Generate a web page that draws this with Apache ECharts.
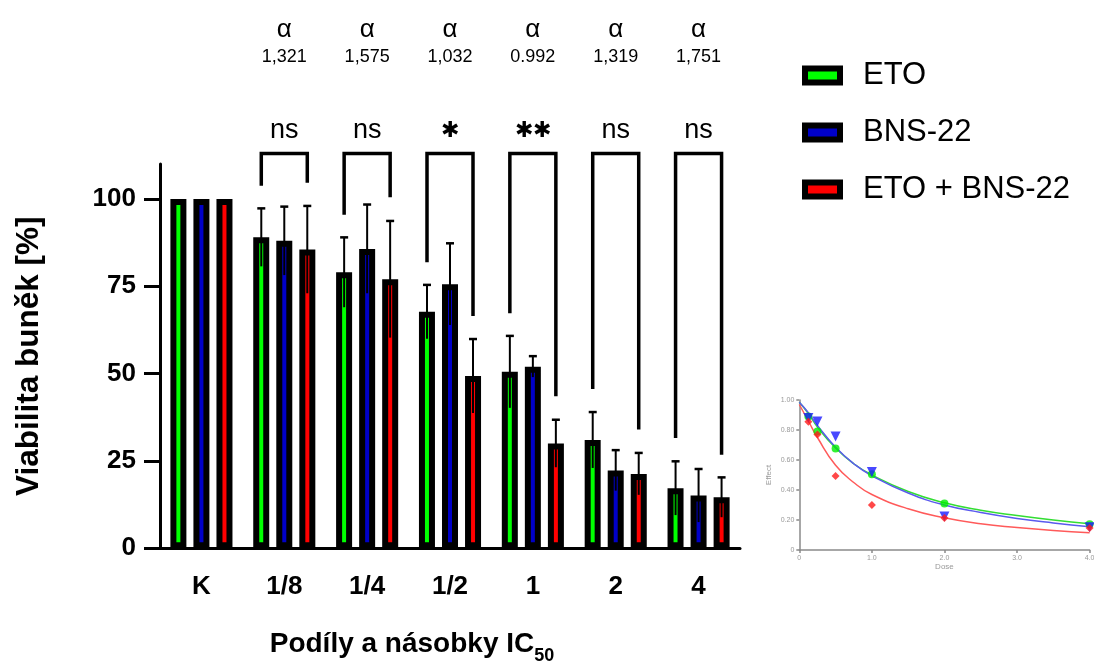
<!DOCTYPE html>
<html>
<head>
<meta charset="utf-8">
<script src="https://cdn.jsdelivr.net/npm/echarts@6/dist/echarts.min.js"></script>
<style>
  html, body { margin: 0; padding: 0; background: #fff; }
  #chart { width: 1094px; height: 665px; }
</style>
</head>
<body>
<div id="chart"></div>
<script>
// kategorie (podíly a násobky IC50)
var categories = ['K', '1/8', '1/4', '1/2', '1', '2', '4'];
var seriesNames = ['ETO', 'BNS-22', 'ETO + BNS-22'];
var colors = ['#00ff00', '#0000c8', '#ff0000'];

// průměry viability [%]
var etoMean = [100, 89, 79, 67.7, 50.5, 31, 17.2];
var bnsMean = [100, 88, 85.7, 75.6, 52, 22.3, 15.1];
var comboMean = [100, 85.5, 77, 49.3, 30, 21.3, 14.6];
// směrodatné odchylky
var etoSd = [0, 8.3, 10, 7.7, 10.3, 8, 7.7];
var bnsSd = [0, 9.8, 12.7, 11.7, 3, 5.8, 7.6];
var comboSd = [0, 12.5, 16.7, 10.6, 6.8, 6, 5.7];

// signifikance ETO vs ETO + BNS-22 (skupiny 1/8 .. 4)
var sigLabels = ['ns', 'ns', '\u2731', '\u2731\u2731', 'ns', 'ns'];
var alphaLabels = ['1,321', '1,575', '1,032', '0.992', '1,319', '1,751'];
// konce ramen závorek (hodnota osy y)
var bracketLeft = [103.8, 95.5, 81.9, 67.3, 45.6, 31.6];
var bracketRight = [104.6, 100.5, 66.5, 43.5, 34, 26.8];

// vložený graf dávka-účinek
var doses = [0.125, 0.25, 0.5, 1, 2, 4];
var curveDose = [0, 0.125, 0.25, 0.5, 0.75, 1, 1.5, 2, 2.5, 3, 3.5, 4];
var etoCurve = [0.985, 0.91, 0.82, 0.68, 0.575, 0.50, 0.39, 0.315, 0.265, 0.23, 0.20, 0.175];
var bnsCurve = [0.985, 0.915, 0.83, 0.685, 0.575, 0.495, 0.38, 0.30, 0.25, 0.21, 0.18, 0.155];
var comboCurve = [0.97, 0.86, 0.75, 0.565, 0.45, 0.37, 0.275, 0.215, 0.175, 0.15, 0.13, 0.115];

var FONT = 'Liberation Sans, Arial, sans-serif';
var BAR_STEP = 23; // vzdálenost středů sloupců ve skupině (px)
var BRACKET_TOP = 113;
var SIG_Y = 119.5;
var CI_Y = 140.5;
var ALPHA_Y = 148.5;

var means = [etoMean, bnsMean, comboMean];
var sds = [etoSd, bnsSd, comboSd];
var curves = [etoCurve, bnsCurve, comboCurve];
var symbols = ['circle', 'triangle', 'diamond'];
var curveColors = ['#33dd33', '#5a5aee', '#ff5a5a'];
var pointColors = ['#00ee00', '#1a1aff', '#ff1a1a'];

var errData = [];
means.forEach(function(arr, s) {
  arr.forEach(function(v, i) {
    if (sds[s][i] > 0) errData.push([i, v, sds[s][i], s]);
  });
});
var bracketData = bracketLeft.map(function(v, i) {
  return [i + 1, v, bracketRight[i]];
});

var chart = echarts.init(document.getElementById('chart'));

var series = [];
seriesNames.forEach(function(name, s) {
  series.push({
    name: name,
    type: 'bar',
    xAxisIndex: 0,
    yAxisIndex: 0,
    data: means[s],
    barWidth: 16,
    barGap: '44%',
    itemStyle: { color: colors[s], borderColor: '#000', borderWidth: 6 }
  });
});

// chybové úsečky
series.push({
  type: 'custom',
  xAxisIndex: 0,
  yAxisIndex: 0,
  z: 5,
  clip: false,
  data: errData,
  encode: { x: 0, y: 1 },
  renderItem: function(params, api) {
    var x = api.coord([api.value(0), 0])[0] + (api.value(3) - 1) * BAR_STEP;
    var top = api.coord([api.value(0), api.value(1) + api.value(2)])[1];
    var bot = api.coord([api.value(0), api.value(1) - api.value(2)])[1];
    return {
      type: 'group',
      children: [
        { type: 'line', shape: { x1: x, y1: bot, x2: x, y2: top }, style: { stroke: '#000', lineWidth: 2 } },
        { type: 'line', shape: { x1: x - 4, y1: top, x2: x + 4, y2: top }, style: { stroke: '#000', lineWidth: 2.5 } }
      ]
    };
  }
});

// závorky, signifikance a hodnoty alfa
series.push({
  type: 'custom',
  xAxisIndex: 0,
  yAxisIndex: 0,
  z: 6,
  clip: false,
  data: bracketData,
  encode: { x: 0, y: 1 },
  renderItem: function(params, api) {
    var i = params.dataIndex;
    var cx = api.coord([api.value(0), 0])[0];
    var xl = cx - BAR_STEP, xr = cx + BAR_STEP;
    var yt = api.coord([api.value(0), BRACKET_TOP])[1];
    var yl = api.coord([api.value(0), api.value(1)])[1];
    var yr = api.coord([api.value(0), api.value(2)])[1];
    var sig = sigLabels[i];
    var isStar = sig !== 'ns';
    return {
      type: 'group',
      children: [
        { type: 'polyline', shape: { points: [[xl, yl], [xl, yt], [xr, yt], [xr, yr]] },
          style: { stroke: '#000', lineWidth: 3.5, fill: null } },
        { type: 'text', x: cx, y: api.coord([api.value(0), SIG_Y])[1],
          style: { text: sig, fontFamily: FONT, fontSize: isStar ? 22 : 27, fill: '#000',
                   align: 'center', verticalAlign: 'middle' } },
        { type: 'text', x: cx, y: api.coord([api.value(0), CI_Y])[1],
          style: { text: alphaLabels[i], fontFamily: FONT, fontSize: 18, fill: '#000',
                   align: 'center', verticalAlign: 'middle' } },
        { type: 'text', x: cx, y: api.coord([api.value(0), ALPHA_Y])[1],
          style: { text: '\u03b1', fontFamily: FONT, fontSize: 26, fill: '#000',
                   align: 'center', verticalAlign: 'middle' } }
      ]
    };
  }
});

// vložený graf: body a proložené křivky
seriesNames.forEach(function(name, s) {
  series.push({
    type: 'line',
    xAxisIndex: 1,
    yAxisIndex: 1,
    smooth: true,
    showSymbol: false,
    data: curveDose.map(function(d, k) { return [d, curves[s][k]]; }),
    lineStyle: { color: curveColors[s], width: 1.5 },
    silent: true
  });
  series.push({
    type: 'scatter',
    xAxisIndex: 1,
    yAxisIndex: 1,
    symbol: symbols[s],
    symbolRotate: s === 1 ? 180 : 0,
    symbolSize: s === 1 ? 10 : 8,
    data: doses.map(function(d, k) { return [d, means[s][k + 1] / 100]; }),
    itemStyle: { color: pointColors[s] },
    z: 4
  });
});

chart.setOption({
  animation: false,
  textStyle: { fontFamily: FONT },
  legend: {
    data: seriesNames,
    orient: 'vertical',
    icon: 'rect',
    left: 797,
    top: 55,
    itemWidth: 35,
    itemHeight: 14,
    itemGap: 26,
    itemStyle: { borderWidth: 6, borderColor: '#000' },
    textStyle: { fontFamily: FONT, fontSize: 31, color: '#000', padding: [0, 0, 0, 18] },
    selectedMode: false
  },
  grid: [
    { left: 160, width: 580, top: 164, bottom: 116.7, outerBoundsMode: 'none', containLabel: false },
    { left: 799.3, width: 290.3, top: 400, bottom: 115, outerBoundsMode: 'none', containLabel: false }
  ],
  xAxis: [
    {
      type: 'category',
      gridIndex: 0,
      data: categories,
      axisLine: { lineStyle: { color: '#000', width: 3 } },
      axisTick: { alignWithLabel: true, length: 14, lineStyle: { color: '#000', width: 3 } },
      axisLabel: { color: '#000', fontWeight: 'bold', fontSize: 26, margin: 26, fontFamily: FONT },
      name: '{a|Podíly a násobky IC}{b|50}',
      nameLocation: 'middle',
      nameGap: 75,
      nameTextStyle: {
        padding: [0, 76, 0, 0],
        rich: {
          a: { fontFamily: FONT, fontWeight: 'bold', fontSize: 28, color: '#000', lineHeight: 42 },
          b: { fontFamily: FONT, fontWeight: 'bold', fontSize: 18, color: '#000', lineHeight: 18, verticalAlign: 'bottom' }
        }
      }
    },
    {
      type: 'value',
      gridIndex: 1,
      min: 0,
      max: 4,
      interval: 1,
      splitLine: { show: false },
      axisLine: { lineStyle: { color: '#8a8a8a', width: 1.5 } },
      axisTick: { length: 3, lineStyle: { color: '#8a8a8a', width: 1.5 } },
      axisLabel: { color: '#999', fontSize: 7, margin: 5,
                   formatter: function(v) { return v === 0 ? '0' : v.toFixed(1); } },
      name: 'Dose',
      nameLocation: 'middle',
      nameGap: 13,
      nameTextStyle: { color: '#999', fontSize: 8 }
    }
  ],
  yAxis: [
    {
      type: 'value',
      gridIndex: 0,
      min: 0,
      max: 110,
      interval: 25,
      splitLine: { show: false },
      axisLine: { show: true, lineStyle: { color: '#000', width: 3 } },
      axisTick: { show: true, length: 16, customValues: [0, 25, 50, 75, 100], lineStyle: { color: '#000', width: 3 } },
      axisLabel: { color: '#000', fontWeight: 'bold', fontSize: 26, margin: 24, fontFamily: FONT,
                   customValues: [0, 25, 50, 75, 100] },
      name: 'Viabilita buněk [%]',
      nameLocation: 'middle',
      nameGap: 115,
      nameTextStyle: { fontFamily: FONT, fontWeight: 'bold', fontSize: 31.5, color: '#000' }
    },
    {
      type: 'value',
      gridIndex: 1,
      min: 0,
      max: 1,
      interval: 0.2,
      splitLine: { show: false },
      axisLine: { show: true, lineStyle: { color: '#8a8a8a', width: 1.5 } },
      axisTick: { show: true, length: 3, lineStyle: { color: '#8a8a8a', width: 1.5 } },
      axisLabel: { color: '#999', fontSize: 7, margin: 5,
                   formatter: function(v) { return v === 0 ? '0' : v.toFixed(2); } },
      name: 'Effect',
      nameLocation: 'middle',
      nameGap: 27,
      nameTextStyle: { color: '#999', fontSize: 8 }
    }
  ],
  series: series
});
</script>
</body>
</html>
